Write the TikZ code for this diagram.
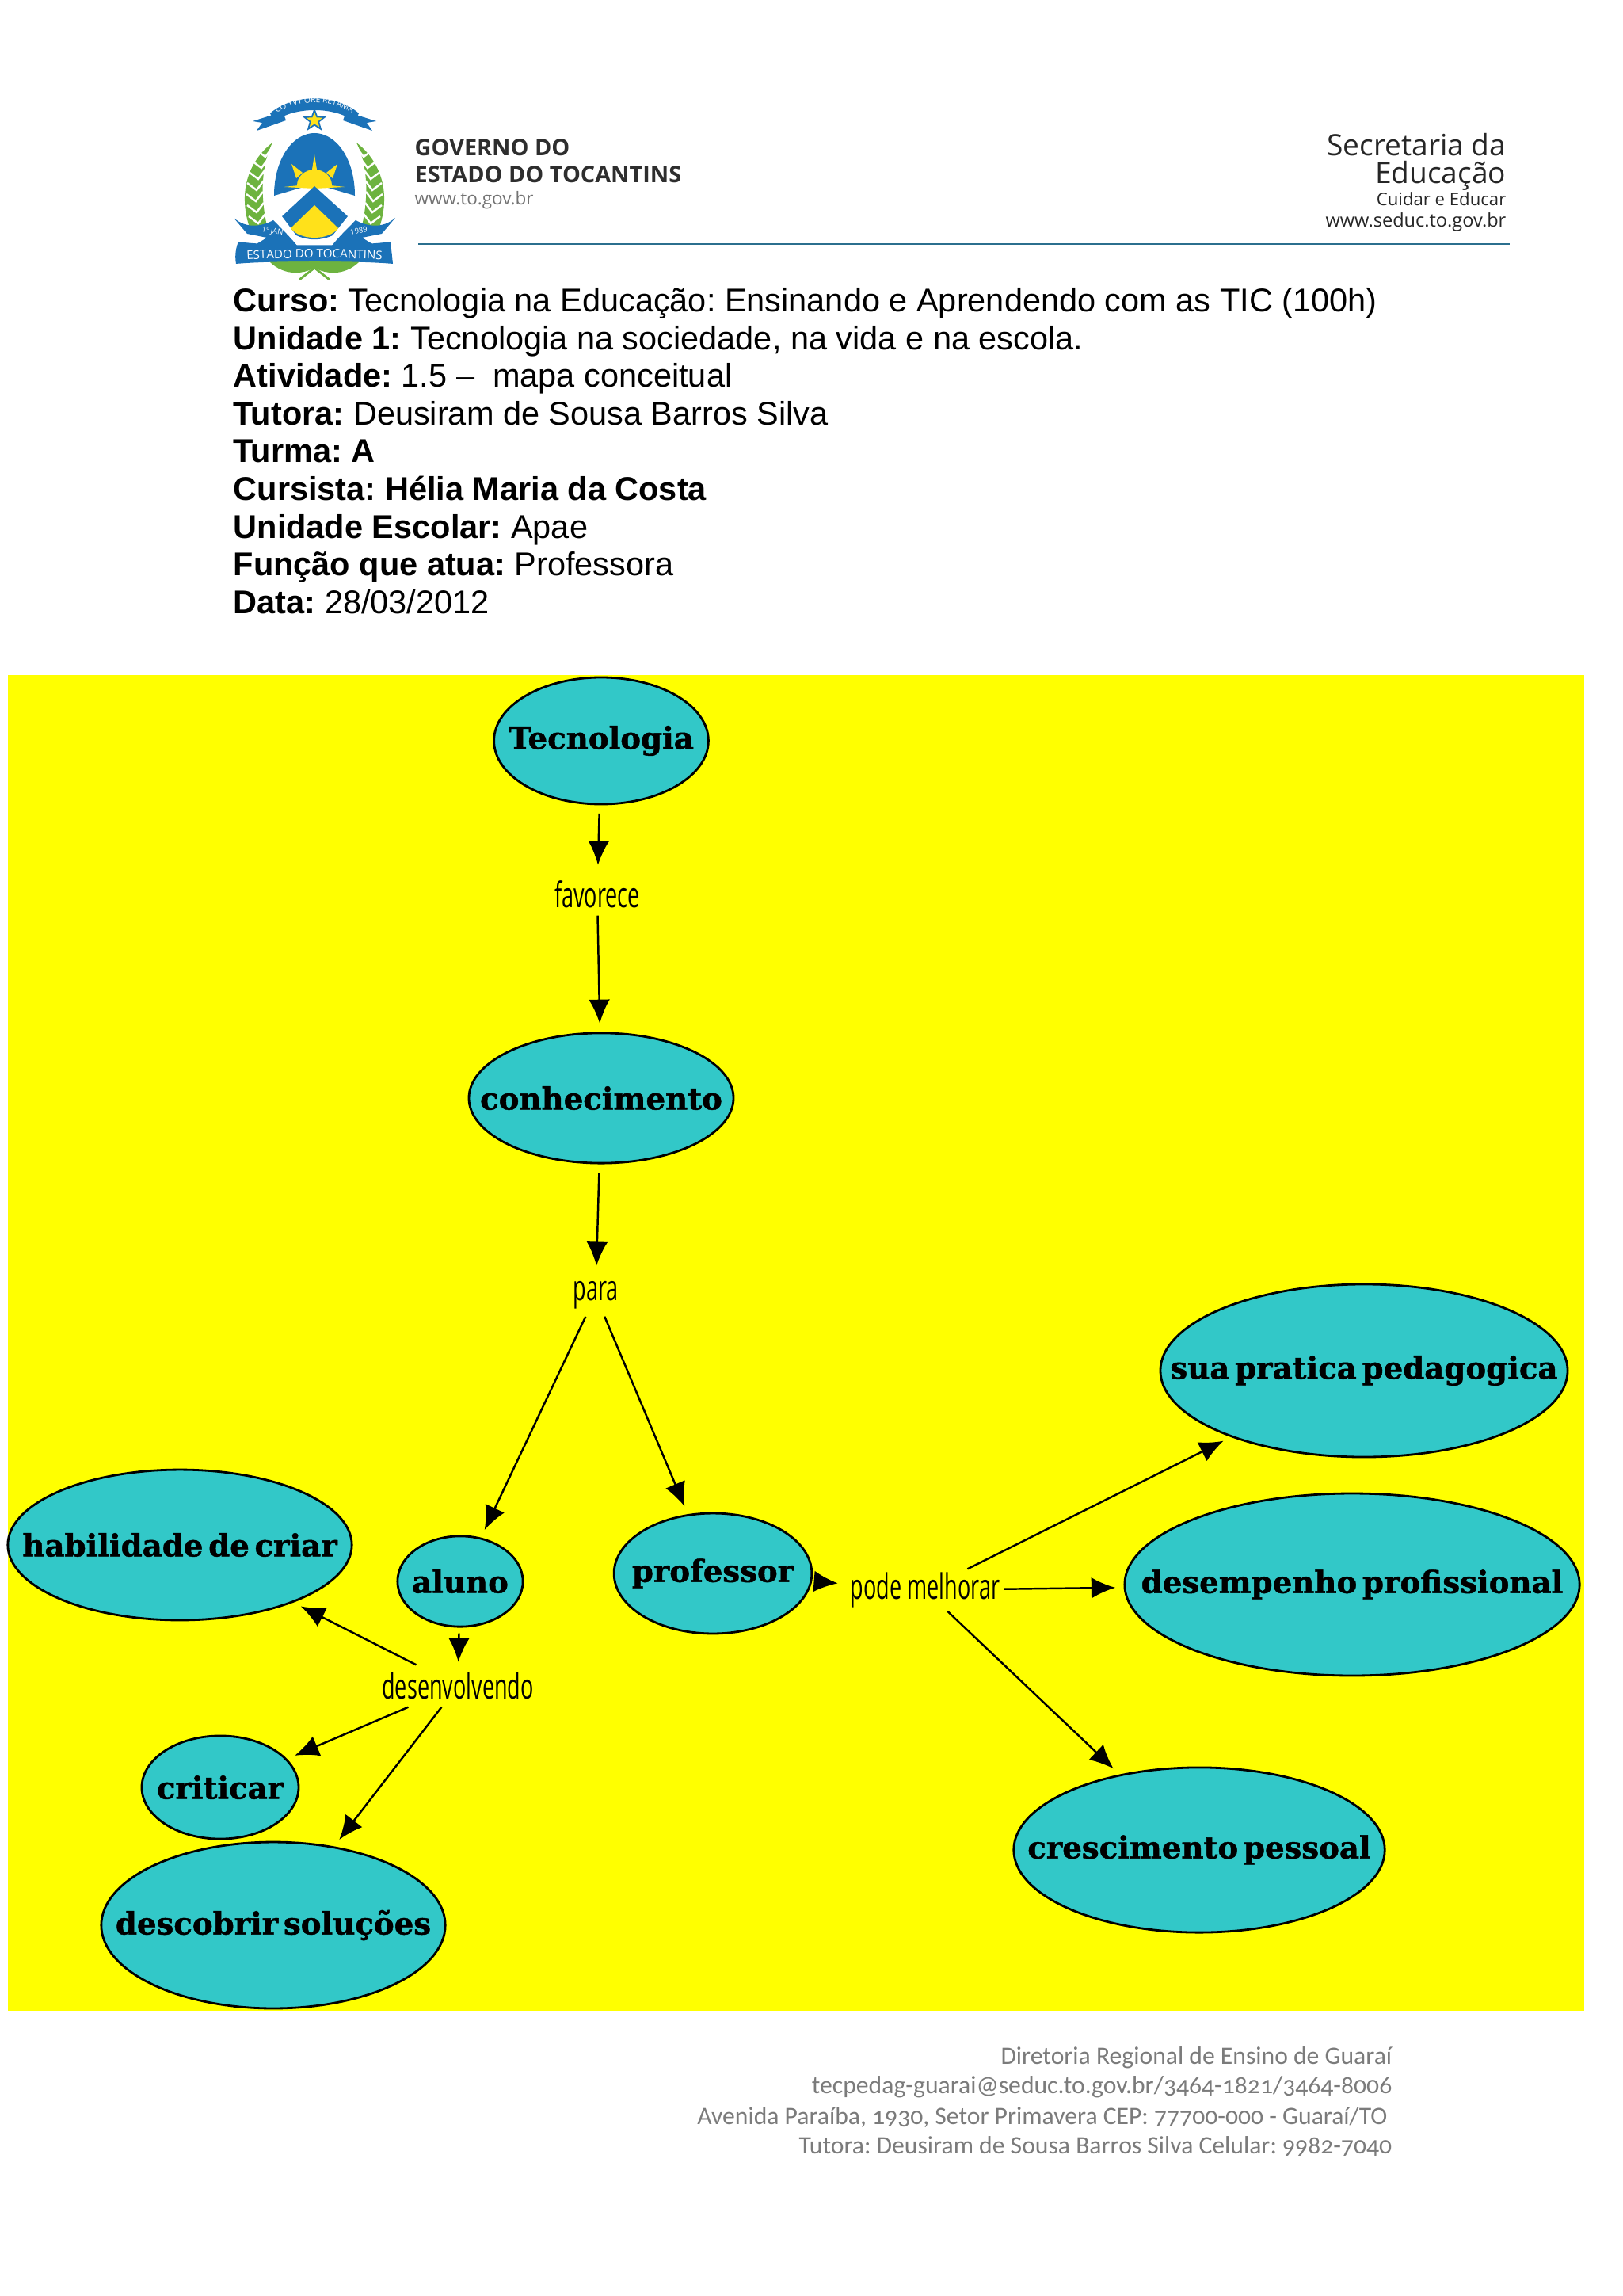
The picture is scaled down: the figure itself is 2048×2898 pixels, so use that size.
\documentclass[tikz,border=0pt]{standalone}
\usepackage{fontspec}
\usepackage{xcolor}
\setmainfont{Liberation Sans}
\newfontfamily\conceptfont[WordSpace=0.5,BoldFeatures={FakeBold=1.2}]{DejaVu Serif}
\newfontfamily\linkfont[FakeStretch=0.61]{Open Sans}
\newfontfamily\headfont{Open Sans}
\newfontfamily\footfont[Numbers=OldStyle]{Carlito}
\usetikzlibrary{shapes.geometric,arrows.meta,decorations.text}
\definecolor{mapteal}{HTML}{32C8C8}
\definecolor{mapyellow}{HTML}{FFFF00}
\definecolor{crestblue}{HTML}{1B72B8}
\definecolor{crestgreen}{HTML}{6DB33F}
\definecolor{crestyellow}{HTML}{FFE11A}
\definecolor{ruleblue}{HTML}{2B6F8E}
\definecolor{footgray}{HTML}{7B7B7B}
\newcommand{\cname}[1]{\makebox[0pt][c]{#1}}
\frenchspacing

\begin{document}
\begin{tikzpicture}[
    x=0.01cm, y=-0.01cm,
    concept/.style={ellipse, draw=black, fill=mapteal, line width=0.8pt, inner sep=0pt,
        font=\conceptfont\bfseries\fontsize{11}{13}\selectfont},
    linkword/.style={inner ysep=0pt, inner xsep=1.4pt, minimum height=14.8pt, minimum width=10pt,
        font=\linkfont\fontsize{12.6}{14}\selectfont},
    arrow/.style={-{Latex[length=8.6pt,width=7.6pt]}, line width=0.7pt, shorten >=3pt},
    fromconcept/.style={arrow, shorten <=3pt},
    headline/.style={anchor=base west, font=\fontsize{11.8}{13}\selectfont},
    footline/.style={anchor=base east, text=footgray, font=\footfont\fontsize{9}{11}\selectfont},
    seduc/.style={anchor=base east, text=black!85, font=\headfont}
]
    \useasboundingbox (0,0) rectangle (2048,2898);
    \fill[mapyellow] (10,852) rectangle (2000,2538);

    % crest
    \fill[crestblue] (319,153) -- (357,141) -- (361,152) -- (324,165) -- (331,155) -- cycle;
    \fill[crestblue] (475,153) -- (437,141) -- (433,152) -- (470,165) -- (463,155) -- cycle;
    \fill[crestblue] (341,143) .. controls (370,118) and (424,118) .. (453,143)
        -- (448,154) .. controls (424,134) and (370,134) .. (346,154) -- cycle;
    \path[decorate, decoration={text along path, text align=center,
        text={|\headfont\fontsize{2.9}{3}\selectfont\color{white}|CO YVY ORE RETAMA}}]
        (345,146) .. controls (372,124) and (422,124) .. (449,146);
    \node[star, star points=5, star point ratio=2.4, fill=crestyellow, draw=crestblue, line width=0.5pt,
        inner sep=0pt, minimum size=7.6pt] (crest star) at (397,152) {};
    \fill[crestblue] (346,247) .. controls (346,200) and (370,168) .. (397,168)
        .. controls (424,168) and (448,200) .. (448,247) -- (397,232) -- cycle;
    % sun
    \fill[crestyellow] (375,234) arc[start angle=180, end angle=360, x radius=22, y radius=20] -- cycle;
    \fill[crestyellow] (394,214) -- (397,195) -- (400,214) -- cycle;
    \fill[crestyellow] (374,225) -- (368,207) -- (382,218) -- cycle;
    \fill[crestyellow] (420,225) -- (426,207) -- (412,218) -- cycle;
    \fill[crestyellow] (358,236) -- (397,232) -- (436,236) -- (397,238) -- cycle;
    % shield
    \fill[crestblue] (397,235) -- (439,273) -- (420,297) .. controls (405,304) and (389,304) .. (374,297) -- (356,273) -- cycle;
    \fill[crestyellow] (397,259) -- (427,288) .. controls (415,304) and (379,304) .. (367,288) -- cycle;
    % laurel
    \foreach \mirror in {1,-1} {
    \begin{scope}[shift={(397,0)}, xscale=\mirror]
        \fill[crestgreen] (-53,180) .. controls (-85,205) and (-97,245) .. (-81,290)
            -- (-60,285) .. controls (-68,250) and (-68,210) .. (-53,180) -- cycle;
        \foreach \lx/\ly in {-62/198,-67/212,-71/226,-73/240,-74/254,-73/268,-71/282}
            \draw[white, line width=0.7pt] (\lx-12,\ly-9) -- (\lx,\ly) -- (\lx+9,\ly-12);
        \fill[crestblue] (-102,275) .. controls (-85,290) and (-65,285) .. (-52,278)
            .. controls (-40,290) and (-30,300) .. (-22,310) -- (-80,312) -- (-60,300) -- (-85,295) -- cycle;
    \end{scope}
    }
    \draw[crestgreen, line width=0.8pt] (378,353) -- (397,338) -- (416,353);
    \fill[crestgreen] (340,330) .. controls (360,350) and (385,345) .. (397,338)
        .. controls (409,345) and (434,350) .. (454,330) -- cycle;
    \fill[crestblue] (301,305) .. controls (340,311) and (454,311) .. (493,305)
        -- (496,333) .. controls (454,329) and (340,329) .. (298,333)
        .. controls (296,322) and (298,312) .. (301,305) -- cycle;
    \path[decorate, decoration={text along path, text align=center,
        text={|\headfont\fontsize{4.3}{5}\selectfont\color{white}|ESTADO DO TOCANTINS}}]
        (305,328) .. controls (345,325) and (449,325) .. (489,328);
    \node[rotate=-10, text=white, inner sep=0pt, font=\headfont\fontsize{2.7}{3}\selectfont] (crest jan) at (344,292) {1º JAN};
    \node[rotate=10, text=white, inner sep=0pt, font=\headfont\fontsize{2.7}{3}\selectfont] (crest year) at (453,291) {1989};

    % letterhead
    \node[anchor=base west, inner sep=0pt, text=black!82, font=\headfont\bfseries\fontsize{8.2}{10}\selectfont] (gov1) at (523,197) {GOVERNO DO};
    \node[anchor=base west, inner sep=0pt, text=black!82, font=\headfont\bfseries\fontsize{8.2}{10}\selectfont] (gov2) at (523,231) {ESTADO DO TOCANTINS};
    \node[anchor=base west, inner sep=0pt, text=black!55, font=\headfont\fontsize{6.4}{8}\selectfont] (gov3) at (523,259) {www.to.gov.br};
    \node[seduc, inner sep=0pt, font=\headfont\fontsize{10.55}{12}\selectfont] (sec1) at (1902,197) {Secretaria da};
    \node[seduc, inner sep=0pt, font=\headfont\fontsize{10.55}{12}\selectfont] (sec2) at (1902,232) {Educação};
    \node[seduc, inner sep=0pt, font=\headfont\fontsize{6.3}{8}\selectfont] (sec3) at (1902,260) {Cuidar e Educar};
    \node[seduc, inner sep=0pt, font=\headfont\fontsize{6.7}{8}\selectfont] (sec4) at (1902,287) {www.seduc.to.gov.br};
    \coordinate (rule a) at (528,308);
    \coordinate (rule b) at (1906,308);
    \draw[ruleblue, line width=0.8pt] (rule a) -- (rule b);

    % course data
    \node[headline, inner sep=0pt] (curso) at (294,394) {\textbf{Curso:} Tecnologia na Educação: Ensinando e Aprendendo com as TIC (100h)};
    \node[headline, inner sep=0pt] (unidade) at (294,442) {\textbf{Unidade 1:} Tecnologia na sociedade, na vida e na escola.};
    \node[headline, inner sep=0pt] (atividade) at (294,489) {\textbf{Atividade:} 1.5 --\ \ mapa conceitual};
    \node[headline, inner sep=0pt] (tutora) at (294,537) {\textbf{Tutora:} Deusiram de Sousa Barros Silva};
    \node[headline, inner sep=0pt] (turma) at (294,584) {\textbf{Turma: A}};
    \node[headline, inner sep=0pt] (cursista) at (294,632) {\textbf{Cursista: Hélia Maria da Costa}};
    \node[headline, inner sep=0pt] (escolar) at (294,680) {\textbf{Unidade Escolar:} Apae};
    \node[headline, inner sep=0pt] (funcao) at (294,727) {\textbf{Função que atua:} Professora};
    \node[headline, inner sep=0pt] (data) at (294,775) {\textbf{Data:} 28/03/2012};

    % concepts
    \node[concept, minimum width=77pt, minimum height=45.5pt] (tecnologia) at (759,935) {\cname{\raisebox{0.9pt}{Tecnologia}}};
    \node[concept, minimum width=95pt, minimum height=46.7pt] (conhecimento) at (759,1386) {\cname{conhecimento}};
    \node[concept, minimum width=123.5pt, minimum height=54pt] (habilidade) at (227,1950) {\cname{habilidade de criar}};
    \node[concept, minimum width=45pt, minimum height=32.5pt] (aluno) at (581,1996) {\cname{aluno}};
    \node[concept, minimum width=71pt, minimum height=43.2pt] (professor) at (900,1986) {\cname{professor}};
    \node[concept, minimum width=56.3pt, minimum height=37pt] (criticar) at (278,2256) {\cname{criticar}};
    \node[concept, minimum width=123.5pt, minimum height=59.7pt] (descobrir) at (345,2430) {\cname{descobrir soluções}};
    \node[concept, minimum width=146.2pt, minimum height=62pt] (sua) at (1722,1730) {\cname{\raisebox{0.9pt}{sua pratica pedagogica}}};
    \node[concept, minimum width=163.3pt, minimum height=65.4pt] (desempenho) at (1707,2000) {\cname{desempenho profissional}};
    \node[concept, minimum width=133.2pt, minimum height=59.2pt] (crescimento) at (1514,2335) {\cname{crescimento pessoal}};

    % link words
    \node[linkword] (favorece) at (754,1129) {favorece};
    \node[linkword] (para) at (752,1635) {para};
    \node[linkword] (desenvolvendo) at (578,2128) {desenvolvendo};
    \node[linkword] (melhorar) at (1168,2007) {pode melhorar};

    \draw[fromconcept] (tecnologia) -- (favorece);
    \draw[arrow] (favorece) -- (conhecimento);
    \draw[fromconcept] (conhecimento) -- (para);
    \draw[arrow] (para) -- (aluno);
    \draw[arrow] (para) -- (professor);
    \draw[fromconcept, shorten <=2pt, shorten >=1pt] (aluno) -- (desenvolvendo);
    \draw[arrow] (desenvolvendo) -- (habilidade);
    \draw[arrow] (desenvolvendo) -- (criticar);
    \draw[arrow] (desenvolvendo) -- (descobrir);
    \draw[fromconcept] (professor) -- (melhorar);
    \draw[arrow] (melhorar) -- (sua);
    \draw[arrow] (melhorar) -- (desempenho);
    \draw[arrow] (melhorar) -- (crescimento);

    % footer
    \node[footline, inner sep=0pt] (foot1) at (1758,2605) {Diretoria Regional de Ensino de Guaraí};
    \node[footline, inner sep=0pt] (foot2) at (1758,2642) {tecpedag-guarai@seduc.to.gov.br/3464-1821/3464-8006};
    \node[footline, inner sep=0pt] (foot3) at (1752,2681) {Avenida Paraíba, 1930, Setor Primavera CEP: 77700-000 - Guaraí/TO};
    \node[footline, inner sep=0pt] (foot4) at (1758,2718) {Tutora: Deusiram de Sousa Barros Silva Celular: 9982-7040};
\end{tikzpicture}
\end{document}
